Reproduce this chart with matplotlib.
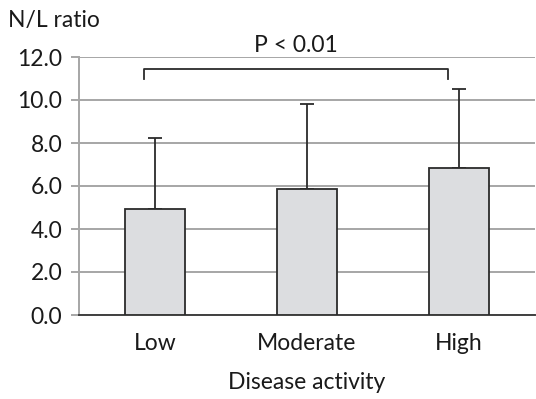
import matplotlib
matplotlib.use("Agg")
import matplotlib.pyplot as plt
import numpy as np

categories = ["Low", "Moderate", "High"]
means = [4.92, 5.88, 6.85]
sd_upper = [3.3, 3.92, 3.65]
y_ticks = [0.0, 2.0, 4.0, 6.0, 8.0, 10.0, 12.0]
p_label = "P < 0.01"

plt.rcParams['font.family'] = ['Lato', 'DejaVu Sans']
FS = 16.5

fig = plt.figure(figsize=(5.36, 3.99), dpi=100)
ax = fig.add_axes([79 / 536, 1 - 315 / 399, 456 / 536, 258 / 399])

x = np.arange(len(categories))
ax.bar(x, means, width=0.4, color="#dcdde0", edgecolor="#2b2b2b",
       linewidth=1.3, zorder=3)
ax.errorbar(x, means, yerr=[np.zeros(len(means)), sd_upper], fmt="none",
            ecolor="#2b2b2b", elinewidth=1.3, capsize=5, capthick=1.3,
            zorder=2)

ax.set_xlim(-0.5, 2.5)
ax.set_ylim(0, 12)
ax.set_yticks(y_ticks)
ax.set_yticklabels([f"{v:.1f}" for v in y_ticks])
ax.set_xticks(x)
ax.set_xticklabels(categories)
ax.grid(axis="y", color="#a6a6a6", linewidth=1.4, zorder=0)
ax.set_axisbelow(True)

for side in ("top", "right"):
    ax.spines[side].set_visible(False)
ax.spines["left"].set_color("#a6a6a6")
ax.spines["left"].set_linewidth(1.4)
ax.spines["bottom"].set_color("#404040")
ax.spines["bottom"].set_linewidth(1.4)
ax.tick_params(axis="y", length=6, width=1.4, color="#a6a6a6",
               labelsize=FS, labelcolor="#1a1a1a", pad=6)
ax.tick_params(axis="x", length=0, labelsize=FS, labelcolor="#1a1a1a",
               pad=13)

ax.set_xlabel("Disease activity", fontsize=FS, color="#1a1a1a", labelpad=13)
fig.text(8 / 536, 1 - 20 / 399, "N/L ratio", fontsize=FS, color="#1a1a1a",
         ha="left", va="center")

# significance bracket between Low and High
bx0, bx1 = -0.07, 1.93
ax.plot([bx0, bx0, bx1, bx1], [11.0, 11.43, 11.43, 11.0], color="#2b2b2b",
        linewidth=1.3, clip_on=False, zorder=4)
ax.text((bx0 + bx1) / 2, 12.55, p_label, ha="center", va="center",
        fontsize=FS, color="#1a1a1a")

fig.savefig("out.png", dpi=100)
